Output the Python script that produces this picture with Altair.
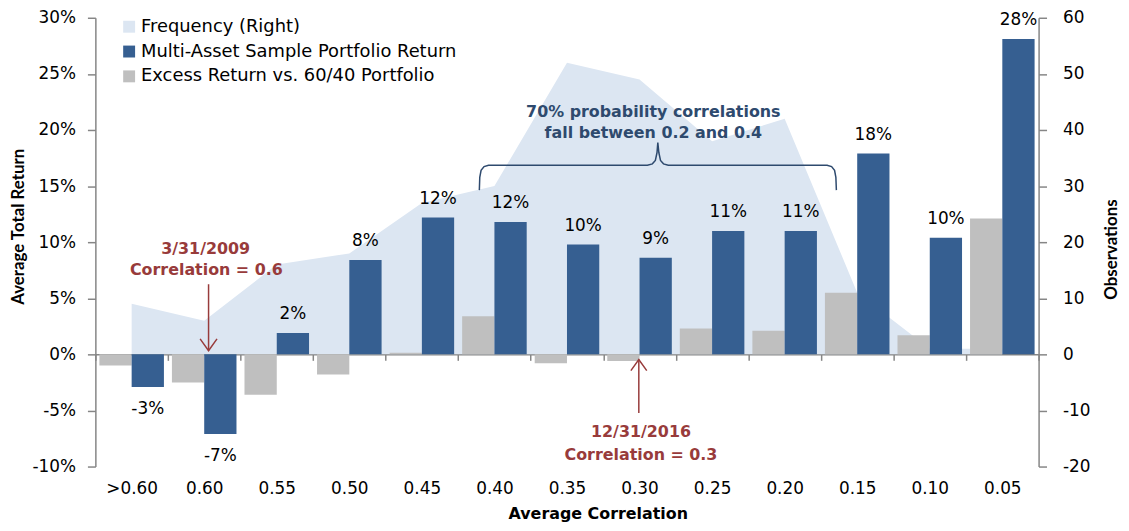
import altair as alt
import pandas as pd

# ---------------- data ----------------
categories = [">0.60", "0.60", "0.55", "0.50", "0.45", "0.40", "0.35",
              "0.30", "0.25", "0.20", "0.15", "0.10", "0.05"]
portfolio_return = [-0.029, -0.071, 0.019, 0.084, 0.122, 0.118, 0.098,
                    0.086, 0.110, 0.110, 0.179, 0.104, 0.281]
excess_return = [-0.010, -0.025, -0.036, -0.018, 0.0015, 0.034, -0.008,
                 -0.006, 0.023, 0.021, 0.055, 0.017, 0.121]
frequency_obs = [9, 6, 16, 18, 27, 30, 52, 49, 38, 42, 11, 1, 1]

S_FREQ = "Frequency (Right)"
S_PORT = "Multi-Asset Sample Portfolio Return"
S_EXC = "Excess Return vs. 60/40 Portfolio"
series_names = [S_FREQ, S_PORT, S_EXC]
series_colors = ["#dce6f2", "#365f91", "#bfbfbf"]

left_ticks = [-0.10, -0.05, 0.0, 0.05, 0.10, 0.15, 0.20, 0.25, 0.30]
right_ticks = [-20, -10, 0, 10, 20, 30, 40, 50, 60]

# annotations (x in category-index units, y in return units)
arrow_x = [1.06, 6.99]
arrow_from = [0.0625, -0.0523]
arrow_to = [0.0033, -0.0046]
red_text = ["3/31/2009", "Correlation = 0.6", "12/31/2016", "Correlation = 0.3"]
red_text_x = [1.02, 1.03, 7.02, 7.02]
red_text_y = [0.0898, 0.0704, -0.0735, -0.0938]
navy_text = ["70% probability correlations", "fall between 0.2 and 0.4"]
navy_text_x = [7.19, 7.19]
navy_text_y = [0.2117, 0.1932]
bracket_x = [4.792, 4.798, 4.816, 4.857, 4.919, 7.108, 7.177, 7.218, 7.241, 7.252,
             7.266, 7.289, 7.330, 7.396, 9.585, 9.647, 9.688, 9.706, 9.713]
bracket_y = [0.1464, 0.1578, 0.1640, 0.1674, 0.1686, 0.1686, 0.1698, 0.1728, 0.1799, 0.1887,
             0.1799, 0.1728, 0.1698, 0.1686, 0.1686, 0.1674, 0.1640, 0.1578, 0.1464]

RED = "#983b3b"
NAVY = "#2e4a6e"
AXIS_GRAY = "#868686"
HFONT = "DejaVu Sans"
AREA_COLOR = series_colors[0]

W, H = 950, 452

# ---------------- tables ----------------
rows = []
for i, (c, p, e) in enumerate(zip(categories, portfolio_return, excess_return)):
    rows.append({"category": c, "series": S_EXC, "value": e, "idx": i})
    rows.append({"category": c, "series": S_PORT, "value": p, "idx": i})
bars_df = pd.DataFrame(rows)
freq_df = pd.DataFrame({"idx": list(range(len(categories))), "obs": frequency_obs})
arrow_df = pd.DataFrame({"x": arrow_x, "y": arrow_from, "y2": arrow_to})
red_df = pd.DataFrame({"x": red_text_x, "y": red_text_y, "t": red_text})
navy_df = pd.DataFrame({"x": navy_text_x, "y": navy_text_y, "t": navy_text})
bracket_df = pd.DataFrame({"x": bracket_x, "y": bracket_y, "o": list(range(len(bracket_x)))})

# ---------------- scales / axes ----------------
x_scale = alt.Scale(domain=categories, paddingInner=0, paddingOuter=0)
color_scale = alt.Scale(domain=series_names, range=series_colors)
legend = alt.Legend(orient="none", legendX=25, legendY=0, title=None,
                    symbolType="square", symbolSize=144, symbolStrokeWidth=0,
                    symbolOpacity=1,
                    labelFont=HFONT, labelFontSize=18, labelColor="black",
                    rowPadding=7, labelOffset=3, labelLimit=600)

x_axis = alt.Axis(title="Average Correlation", offset=-H / 4, tickBand="extent",
                  tickSize=6, labelPadding=121, labelAngle=0, domainColor=AXIS_GRAY,
                  tickColor=AXIS_GRAY, domainWidth=1.5, tickWidth=1.5,
                  labelFont=HFONT, labelFontSize=17, labelColor="black",
                  titleFont=HFONT, titleFontWeight="bold", titleFontSize=16,
                  titleColor="black", titleX=506, titleY=165, titleAlign="center",
                  titleBaseline="alphabetic", grid=False)
left_axis = alt.Axis(values=left_ticks, labelExpr="round(datum.value*100) + '%'",
                     tickSize=8, labelPadding=12, domainColor=AXIS_GRAY, tickColor=AXIS_GRAY,
                     domainWidth=1.5, tickWidth=1.5,
                     labelFont=HFONT, labelFontSize=17, labelColor="black",
                     title="Average Total Return", titleFont="Lato", titleFontWeight="bold",
                     titleFontSize=17, titleColor="black", titleAngle=270, titleX=-77,
                     titleY=210, titleAlign="center", titleBaseline="middle", grid=False)
right_axis = alt.Axis(orient="right", values=right_ticks, labelExpr="datum.value + ''",
                      tickSize=8, labelPadding=16, domainColor=AXIS_GRAY, tickColor=AXIS_GRAY,
                      domainWidth=1.5, tickWidth=1.5,
                      labelFont=HFONT, labelFontSize=17, labelColor="black",
                      title="Observations", titleFont="Lato", titleFontWeight="bold",
                      titleFontSize=17, titleColor="black", titleAngle=270, titleX=73,
                      titleY=233, titleAlign="center", titleBaseline="middle", grid=False)

x_enc = alt.X("category:N", scale=x_scale, axis=x_axis)
xoff_enc = alt.XOffset("series:N", scale=alt.Scale(domain=[S_EXC, S_PORT],
                                                   paddingInner=0, paddingOuter=0.124))
y_enc = alt.Y("value:Q", scale=alt.Scale(domain=[-0.10, 0.30], nice=False, zero=False),
              axis=left_axis, stack=None)

ax = alt.Scale(domain=[-0.5, 12.5], nice=False, zero=False)
ay = alt.Scale(domain=[-0.10, 0.30], nice=False, zero=False)

# ---------------- layers ----------------
area = alt.Chart(freq_df).mark_area(color=AREA_COLOR, opacity=1).encode(
    x=alt.X("idx:Q", scale=ax, axis=None),
    y=alt.Y("obs:Q", scale=alt.Scale(domain=[-20, 60], nice=False, zero=False),
            axis=right_axis),
)

bars = alt.Chart(bars_df).mark_bar().encode(
    x=x_enc, xOffset=xoff_enc, y=y_enc,
    color=alt.Color("series:N", scale=color_scale, legend=legend),
)

lab_base = (alt.Chart(bars_df)
            .transform_filter(f"datum.series == '{S_PORT}'")
            .transform_calculate(label="round(datum.value*100) + '%'"))
pos_labels = lab_base.transform_filter("datum.value >= 0").mark_text(
    baseline="alphabetic", dy=-14, font=HFONT, fontSize=17, color="black"
).encode(x=x_enc, xOffset=xoff_enc, y=y_enc, text="label:N")
neg_labels = lab_base.transform_filter("datum.value < 0").mark_text(
    baseline="top", dy=14, font=HFONT, fontSize=17, color="black"
).encode(x=x_enc, xOffset=xoff_enc, y=y_enc, text="label:N")

bar_group = alt.layer(bars, pos_labels, neg_labels)

arrows = alt.Chart(arrow_df).mark_rule(color=RED, strokeWidth=1.5).encode(
    x=alt.X("x:Q", scale=ax, axis=None),
    y=alt.Y("y:Q", scale=ay, axis=None), y2="y2:Q")
head_down = alt.Chart(arrow_df.iloc[[0]]).mark_point(
    shape="M-1,-1.4L0,0L1,-1.4", filled=False, size=289, strokeWidth=1.5,
    color=RED, opacity=1).encode(
    x=alt.X("x:Q", scale=ax, axis=None), y=alt.Y("y2:Q", scale=ay, axis=None))
head_up = alt.Chart(arrow_df.iloc[[1]]).mark_point(
    shape="M-1,1.4L0,0L1,1.4", filled=False, size=256, strokeWidth=1.5,
    color=RED, opacity=1).encode(
    x=alt.X("x:Q", scale=ax, axis=None), y=alt.Y("y2:Q", scale=ay, axis=None))
red_labels = alt.Chart(red_df).mark_text(
    font=HFONT, fontWeight="bold", fontSize=16, color=RED, align="center",
    baseline="alphabetic").encode(
    x=alt.X("x:Q", scale=ax, axis=None), y=alt.Y("y:Q", scale=ay, axis=None), text="t:N")
navy_labels = alt.Chart(navy_df).mark_text(
    font=HFONT, fontWeight="bold", fontSize=16, color=NAVY, align="center",
    baseline="alphabetic").encode(
    x=alt.X("x:Q", scale=ax, axis=None), y=alt.Y("y:Q", scale=ay, axis=None), text="t:N")
bracket = alt.Chart(bracket_df).mark_line(color=NAVY, strokeWidth=1.5).encode(
    x=alt.X("x:Q", scale=ax, axis=None), y=alt.Y("y:Q", scale=ay, axis=None),
    order="o:Q")

annot_group = alt.layer(arrows, head_down, head_up, red_labels, navy_labels, bracket)

chart = alt.layer(area, bar_group, annot_group).resolve_scale(
    x="independent", y="independent"
).properties(
    width=W, height=H,
    padding={"left": 88, "top": 8, "right": 83, "bottom": 55},
    autosize=alt.AutoSizeParams(type="none"),
    background="white",
).configure_view(stroke=None)

chart.save("out.html", embed_options={"renderer": "svg", "actions": False})
